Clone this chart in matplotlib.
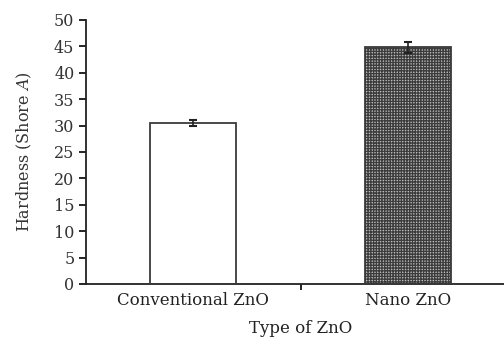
import matplotlib
matplotlib.use("Agg")
import matplotlib.pyplot as plt

categories = ["Conventional ZnO", "Nano ZnO"]
hardness = [30.5, 44.8]
errors = [0.6, 1.1]
y_ticks = [0, 5, 10, 15, 20, 25, 30, 35, 40, 45, 50]

plt.rcParams['font.family'] = ['DejaVu Serif']
plt.rcParams['mathtext.fontset'] = 'dejavuserif'
plt.rcParams['hatch.linewidth'] = 0.95

W, H = 504, 340
fig = plt.figure(figsize=(W/100, H/100), dpi=100)
unit = 215.0
left_px = 193 - 0.5*unit
ax = fig.add_axes([left_px/W, 56/H, 2*unit/W, 264/H])

x = list(range(len(categories)))
colors = ['white', '#bdbdbd']
hatches = [None, '++++++']
for i in x:
    ax.bar(i, hardness[i], width=0.40, color=colors[i], hatch=hatches[i],
           edgecolor='#3c3c3c' if hatches[i] else 'none', linewidth=0, zorder=2)
    ax.bar(i, hardness[i], width=0.40, fill=False, edgecolor='#3a3a3a',
           linewidth=1.3, zorder=3)
ax.errorbar(x, hardness, yerr=errors, fmt='none', ecolor='#222222',
            elinewidth=1.2, capsize=3, capthick=1.5, zorder=4)

ax.set_xlim(-0.5, 1.5)
ax.set_ylim(0, 50)
ax.set_yticks(y_ticks)
ax.set_xticks([0.5])
ax.set_xticklabels([''])
for i, c in enumerate(categories):
    ax.text(i, -1.6, c, ha='center', va='top', fontsize=12, color='#222222')
ax.text(0.5, -6.9, 'Type of ZnO', ha='center', va='top', fontsize=12, color='#222222')
ax.set_ylabel('Hardness (Shore $\\mathit{A}$)', fontsize=11.5, color='#333333', labelpad=14)

for s in ['top', 'right']:
    ax.spines[s].set_visible(False)
for s in ['left', 'bottom']:
    ax.spines[s].set_linewidth(1.3)
    ax.spines[s].set_color('#222222')
ax.tick_params(axis='y', direction='out', length=5, width=1.2, labelsize=11.5,
               labelcolor='#333333', pad=3)
ax.tick_params(axis='x', direction='out', length=4, width=1.2)

fig.savefig('out.png', dpi=100)
